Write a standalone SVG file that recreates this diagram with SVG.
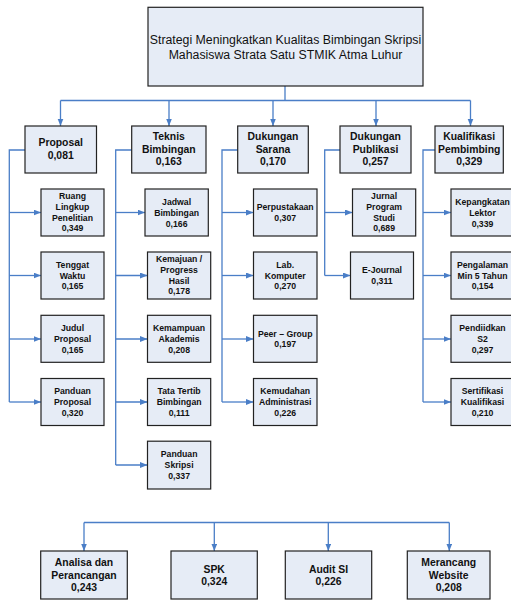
<svg xmlns="http://www.w3.org/2000/svg" width="511" height="601" viewBox="0 0 511 601">
<defs>
<marker id="ah" markerUnits="userSpaceOnUse" markerWidth="8" markerHeight="7" refX="7.5" refY="3" orient="auto">
<path d="M0,0 L7.5,3 L0,6 z" fill="#4A7EC7"/>
</marker>
<style>
.box{fill:#E6ECF6;stroke:#222;stroke-width:1.2}
.c{fill:none;stroke:#4A7EC7;stroke-width:1.3}
.a{marker-end:url(#ah)}
text{font-family:"Liberation Sans",Arial,sans-serif;fill:#111;text-anchor:middle}
.t{font-size:12.3px}
.l2{font-size:10.4px;font-weight:bold}
.ch{font-size:8.7px;font-weight:bold}
.bt{font-size:10.4px;font-weight:bold}
</style>
</defs>
<rect width="511" height="601" fill="#fff"/>

<g id="connectors">
<path class="c" d="M285,86 V100.5 M60.5,100.5 H470.5"/>
<path class="c a" d="M60.5,100.5 V126"/>
<path class="c a" d="M169,100.5 V126"/>
<path class="c a" d="M273,100.5 V126"/>
<path class="c a" d="M376,100.5 V126"/>
<path class="c a" d="M470.5,100.5 V126"/>
<!-- col1 -->
<path class="c" d="M25,150 H9.3 V402"/>
<path class="c a" d="M9.3,212.5 H41"/>
<path class="c a" d="M9.3,275.5 H41"/>
<path class="c a" d="M9.3,339 H41"/>
<path class="c a" d="M9.3,402 H41"/>
<!-- col2 -->
<path class="c" d="M131.7,150 H115.7 V465"/>
<path class="c a" d="M115.7,212.5 H145"/>
<path class="c a" d="M115.7,275.5 H147.5"/>
<path class="c a" d="M115.7,339 H147.5"/>
<path class="c a" d="M115.7,402 H147.5"/>
<path class="c a" d="M115.7,465 H147.5"/>
<!-- col3 -->
<path class="c" d="M237.7,150 H222 V402"/>
<path class="c a" d="M222,212.5 H253.5"/>
<path class="c a" d="M222,275.5 H253.5"/>
<path class="c a" d="M222,339 H253.5"/>
<path class="c a" d="M222,402 H253.5"/>
<!-- col4 -->
<path class="c" d="M340,150 H324.7 V275.5"/>
<path class="c a" d="M324.7,212.5 H352.5"/>
<path class="c a" d="M324.7,275.5 H350.5"/>
<!-- col5 -->
<path class="c" d="M435,150 H423 V402"/>
<path class="c a" d="M423,212.5 H451"/>
<path class="c a" d="M423,275.5 H451"/>
<path class="c a" d="M423,339 H451"/>
<path class="c a" d="M423,402 H451"/>
<!-- bottom -->
<path class="c" d="M84,522.5 H449.3"/>
<path class="c a" d="M84,522.5 V551"/>
<path class="c a" d="M214.3,522.5 V551"/>
<path class="c a" d="M328.3,522.5 V551"/>
<path class="c a" d="M449.3,522.5 V551"/>
</g>

<g id="root">
<rect class="box" x="148" y="7.3" width="275" height="78.7"/>
<text class="t"><tspan x="285.5" y="43.7">Strategi Meningkatkan Kualitas Bimbingan Skripsi</tspan><tspan x="285.5" y="58.7">Mahasiswa Strata Satu STMIK Atma Luhur</tspan></text>
</g>

<g id="proposal">
<rect class="box" x="25" y="126" width="71.5" height="47"/>
<text class="l2"><tspan x="60.7" y="146.4">Proposal</tspan><tspan x="60.7" y="158.7">0,081</tspan></text>
</g>
<g id="teknis">
<rect class="box" x="131.7" y="126" width="74.3" height="47"/>
<text class="l2"><tspan x="168.8" y="140.4">Teknis</tspan><tspan x="168.8" y="153">Bimbingan</tspan><tspan x="168.8" y="165.4">0,163</tspan></text>
</g>
<g id="sarana">
<rect class="box" x="237.7" y="126" width="70.6" height="47"/>
<text class="l2"><tspan x="273" y="140.4">Dukungan</tspan><tspan x="273" y="153">Sarana</tspan><tspan x="273" y="165.4">0,170</tspan></text>
</g>
<g id="publikasi">
<rect class="box" x="340" y="126" width="71" height="47"/>
<text class="l2"><tspan x="375.5" y="140.4">Dukungan</tspan><tspan x="375.5" y="153">Publikasi</tspan><tspan x="375.5" y="165.4">0,257</tspan></text>
</g>
<g id="kualifikasi">
<rect class="box" x="435" y="126" width="68.3" height="47"/>
<text class="l2"><tspan x="469.2" y="140.4">Kualifikasi</tspan><tspan x="469.2" y="153">Pembimbing</tspan><tspan x="469.2" y="165.4">0,329</tspan></text>
</g>

<!-- column 1 -->
<g id="ruang">
<rect class="box" x="41" y="189" width="63" height="47"/>
<text class="ch"><tspan x="72.5" y="199.3">Ruang</tspan><tspan x="72.5" y="210">Lingkup</tspan><tspan x="72.5" y="220.7">Penelitian</tspan><tspan x="72.5" y="231.4">0,349</tspan></text>
</g>
<g id="tenggat">
<rect class="box" x="41" y="252" width="63" height="47"/>
<text class="ch"><tspan x="72.5" y="267.9">Tenggat</tspan><tspan x="72.5" y="278.6">Waktu</tspan><tspan x="72.5" y="289.3">0,165</tspan></text>
</g>
<g id="judul">
<rect class="box" x="41" y="315.3" width="63" height="47"/>
<text class="ch"><tspan x="72.5" y="331.2">Judul</tspan><tspan x="72.5" y="341.9">Proposal</tspan><tspan x="72.5" y="352.6">0,165</tspan></text>
</g>
<g id="panduan-proposal">
<rect class="box" x="41" y="378.5" width="63" height="47"/>
<text class="ch"><tspan x="72.5" y="394.4">Panduan</tspan><tspan x="72.5" y="405.1">Proposal</tspan><tspan x="72.5" y="415.8">0,320</tspan></text>
</g>

<!-- column 2 -->
<g id="jadwal">
<rect class="box" x="145" y="189" width="63.3" height="47"/>
<text class="ch"><tspan x="176.6" y="205.3">Jadwal</tspan><tspan x="176.6" y="216">Bimbingan</tspan><tspan x="176.6" y="226.7">0,166</tspan></text>
</g>
<g id="kemajuan">
<rect class="box" x="147.5" y="252" width="63.2" height="47"/>
<text class="ch"><tspan x="179.1" y="262.3">Kemajuan /</tspan><tspan x="179.1" y="273">Progress</tspan><tspan x="179.1" y="283.7">Hasil</tspan><tspan x="179.1" y="294.4">0,178</tspan></text>
</g>
<g id="kemampuan">
<rect class="box" x="147.5" y="315.3" width="63.2" height="47"/>
<text class="ch"><tspan x="179.1" y="331.2">Kemampuan</tspan><tspan x="179.1" y="341.9">Akademis</tspan><tspan x="179.1" y="352.6">0,208</tspan></text>
</g>
<g id="tata-tertib">
<rect class="box" x="147.5" y="378.5" width="63.2" height="47"/>
<text class="ch"><tspan x="179.1" y="394.4">Tata Tertib</tspan><tspan x="179.1" y="405.1">Bimbingan</tspan><tspan x="179.1" y="415.8">0,111</tspan></text>
</g>
<g id="panduan-skripsi">
<rect class="box" x="147.5" y="441.2" width="63.2" height="47.8"/>
<text class="ch"><tspan x="179.1" y="457.4">Panduan</tspan><tspan x="179.1" y="468.1">Skripsi</tspan><tspan x="179.1" y="478.8">0,337</tspan></text>
</g>

<!-- column 3 -->
<g id="perpustakaan">
<rect class="box" x="253.5" y="189" width="63.5" height="47"/>
<text class="ch"><tspan x="285.2" y="209.8">Perpustakaan</tspan><tspan x="285.2" y="220.5">0,307</tspan></text>
</g>
<g id="lab">
<rect class="box" x="253.5" y="252" width="63.5" height="47"/>
<text class="ch"><tspan x="285.2" y="267.9">Lab.</tspan><tspan x="285.2" y="278.6">Komputer</tspan><tspan x="285.2" y="289.3">0,270</tspan></text>
</g>
<g id="peer">
<rect class="box" x="253.5" y="315.3" width="63.5" height="47"/>
<text class="ch"><tspan x="285.2" y="336.5">Peer – Group</tspan><tspan x="285.2" y="347.2">0,197</tspan></text>
</g>
<g id="kemudahan">
<rect class="box" x="253.5" y="378.5" width="63.5" height="47"/>
<text class="ch"><tspan x="285.2" y="394.4">Kemudahan</tspan><tspan x="285.2" y="405.1">Administrasi</tspan><tspan x="285.2" y="415.8">0,226</tspan></text>
</g>

<!-- column 4 -->
<g id="jurnal">
<rect class="box" x="352.5" y="189" width="63.2" height="47"/>
<text class="ch"><tspan x="384.1" y="199.3">Jurnal</tspan><tspan x="384.1" y="210">Program</tspan><tspan x="384.1" y="220.7">Studi</tspan><tspan x="384.1" y="231.4">0,689</tspan></text>
</g>
<g id="ejournal">
<rect class="box" x="350.5" y="252" width="63" height="47"/>
<text class="ch"><tspan x="382" y="273.2">E-Journal</tspan><tspan x="382" y="283.9">0,311</tspan></text>
</g>

<!-- column 5 -->
<g id="lektor">
<rect class="box" x="451" y="189" width="62" height="47"/>
<text class="ch"><tspan x="482.5" y="205.3">Kepangkatan</tspan><tspan x="482.5" y="216">Lektor</tspan><tspan x="482.5" y="226.7">0,339</tspan></text>
</g>
<g id="pengalaman">
<rect class="box" x="451" y="252" width="62" height="47"/>
<text class="ch"><tspan x="482.5" y="267.9">Pengalaman</tspan><tspan x="482.5" y="278.6">Min 5 Tahun</tspan><tspan x="482.5" y="289.3">0,154</tspan></text>
</g>
<g id="pendidikan">
<rect class="box" x="451" y="315.3" width="62" height="47"/>
<text class="ch"><tspan x="482.5" y="331.2">Pendiidkan</tspan><tspan x="482.5" y="341.9">S2</tspan><tspan x="482.5" y="352.6">0,297</tspan></text>
</g>
<g id="sertifikasi">
<rect class="box" x="451" y="378.5" width="62" height="47"/>
<text class="ch"><tspan x="482.5" y="394.4">Sertifikasi</tspan><tspan x="482.5" y="405.1">Kualifikasi</tspan><tspan x="482.5" y="415.8">0,210</tspan></text>
</g>

<!-- bottom -->
<g id="analisa">
<rect class="box" x="40.7" y="551" width="86.6" height="48"/>
<text class="bt"><tspan x="84" y="566">Analisa dan</tspan><tspan x="84" y="578.5">Perancangan</tspan><tspan x="84" y="591">0,243</tspan></text>
</g>
<g id="spk">
<rect class="box" x="171" y="551" width="86.3" height="48"/>
<text class="bt"><tspan x="214.2" y="572.8">SPK</tspan><tspan x="214.2" y="584.6">0,324</tspan></text>
</g>
<g id="audit">
<rect class="box" x="285.3" y="551" width="86.4" height="48"/>
<text class="bt"><tspan x="328.5" y="572.8">Audit SI</tspan><tspan x="328.5" y="584.6">0,226</tspan></text>
</g>
<g id="website">
<rect class="box" x="407.3" y="551" width="82.7" height="48"/>
<text class="bt"><tspan x="448.7" y="566">Merancang</tspan><tspan x="448.7" y="578.5">Website</tspan><tspan x="448.7" y="591">0,208</tspan></text>
</g>
</svg>
